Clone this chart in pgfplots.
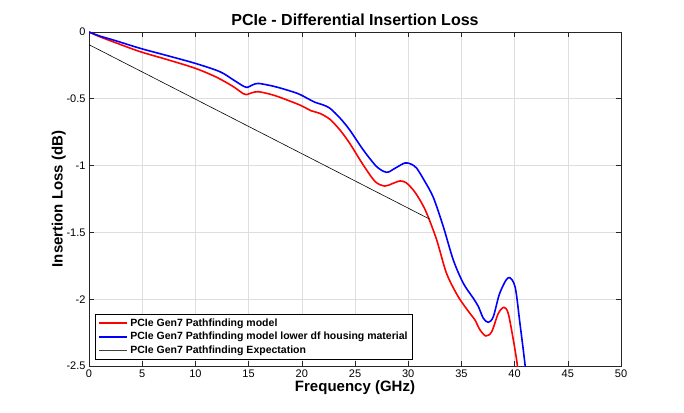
\documentclass[border=0pt]{standalone}
\usepackage{pgfplots}
\pgfplotsset{compat=1.18}
\usepackage{fontspec}
\setmainfont{Liberation Sans}
\definecolor{axgray}{RGB}{38,38,38}
\definecolor{gridgray}{RGB}{222,222,222}
\begin{document}
\begin{tikzpicture}
\begin{axis}[
  scale only axis, width=532pt, height=334pt,
  xmin=0, xmax=50, ymin=-2.5, ymax=0,
  xtick={0,5,...,50}, ytick={-2.5,-2,-1.5,-1,-0.5,0},
  yticklabels={-2.5,-2,-1.5,-1,-0.5,0},
  axis line style={axgray, line width=0.7pt},
  tick style={axgray, line width=0.6pt},
  major tick length=5pt,
  tick align=inside,
  grid=major, grid style={gridgray, line width=0.6pt},
  tick label style={font=\fontsize{11}{13}\selectfont, text=black},
  /pgf/number format/assume math mode=true,
  xlabel={\textbf{Frequency (GHz)}},
  ylabel={\textbf{Insertion Loss (dB)}},
  label style={font=\fontsize{15}{17}\selectfont},
  xlabel style={yshift=4pt},
  ylabel style={yshift=-6pt},
  title={\textbf{PCIe - Differential Insertion Loss}},
  title style={font=\fontsize{16}{18}\selectfont, yshift=-3pt},
  clip=true,
  legend cell align=left,
  legend style={at={(6/532,7/334)}, anchor=south west,
    font=\fontsize{10.5}{12}\selectfont\bfseries,
    row sep=0.5pt},
  legend image code/.code={\draw[mark repeat=2,mark phase=2,#1] plot coordinates {(0pt,0pt) (14pt,0pt) (28pt,0pt)};},
]
\addplot[red, line width=1.6pt, smooth, tension=0.5,
  legend image post style={line width=2.2pt}] coordinates {
(0,0) (1,-0.035) (2.5,-0.08) (4.8,-0.147) (7.5,-0.21) (10,-0.272)
(12,-0.339) (13.56,-0.409) (14.5,-0.462) (14.8,-0.469) (15.3,-0.455)
(15.9,-0.447) (17,-0.465) (17.95,-0.489) (19.8,-0.546) (20.9,-0.59)
(21.7,-0.609) (22.65,-0.654) (23.6,-0.735) (24.5,-0.833) (25.78,-0.996)
(26.9,-1.12) (27.8,-1.153) (28.5,-1.135) (29.23,-1.115) (29.8,-1.128)
(30.48,-1.183) (31.1,-1.257) (31.74,-1.357) (32.68,-1.557) (33.6,-1.806)
(34.7,-1.981) (35.8,-2.106) (36.28,-2.156) (36.75,-2.23) (37.3,-2.275)
(37.85,-2.243) (38.47,-2.106) (39.0,-2.061) (39.4,-2.106) (39.88,-2.305)
(40.25,-2.49) (40.5,-2.7)};
\addlegendentry{PCIe Gen7 Pathfinding model}
\addplot[blue, line width=1.6pt, smooth, tension=0.5,
  legend image post style={line width=2.2pt}] coordinates {
(0,0) (1,-0.03) (2.5,-0.065) (4.8,-0.122) (7.5,-0.18) (10,-0.235)
(12.3,-0.297) (13.6,-0.36) (14.5,-0.405) (14.9,-0.414) (15.4,-0.395)
(15.9,-0.385) (17,-0.4) (18,-0.42) (19.6,-0.46) (20.6,-0.5)
(21.2,-0.525) (22,-0.546) (22.65,-0.571) (23.6,-0.645) (24.5,-0.733)
(25.78,-0.883) (27.04,-1.008) (27.98,-1.05) (28.76,-1.02) (29.7,-0.98)
(30.3,-0.99) (30.8,-1.02) (31.5,-1.11) (32.36,-1.238) (33.3,-1.457)
(34.24,-1.707) (35.18,-1.881) (36.12,-1.993) (36.6,-2.056) (37.06,-2.143)
(37.53,-2.173) (38.0,-2.131) (38.6,-1.956) (39.4,-1.839) (40.04,-1.906)
(40.5,-2.18) (40.98,-2.49) (41.3,-2.75)};
\addlegendentry{PCIe Gen7 Pathfinding model lower df housing material}
\addplot[black, line width=0.6pt,
  legend image post style={line width=1pt, black!75}] coordinates {(0,-0.095) (32,-1.4)};
\addlegendentry{PCIe Gen7 Pathfinding Expectation}
\end{axis}
\useasboundingbox (-89pt,-46pt) rectangle (595pt,366pt);
\end{tikzpicture}
\end{document}
